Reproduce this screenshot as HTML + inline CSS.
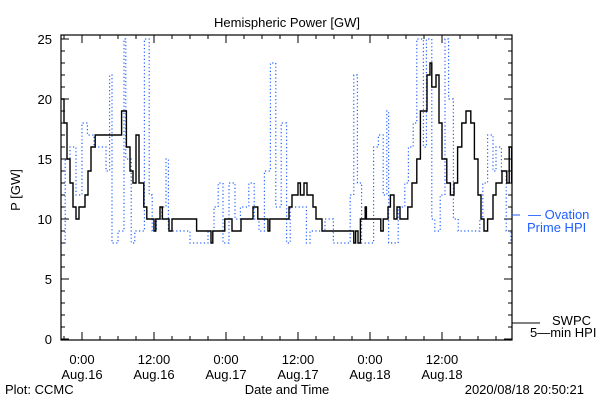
<!DOCTYPE html>
<html><head><meta charset="utf-8"><style>
body{margin:0;background:#fff}
svg text{font-family:"Liberation Sans",sans-serif;font-size:13px}
</style></head><body>
<svg id="chart" width="600" height="400" xmlns="http://www.w3.org/2000/svg">
<rect width="600" height="400" fill="#fff"/>
<text x="287" y="27" text-anchor="middle" font-size="15">Hemispheric Power [GW]</text>
<text x="20" y="190" text-anchor="middle" transform="rotate(-90 20 190)">P [GW]</text>
<text x="287" y="394" text-anchor="middle">Date and Time</text>
<text x="5" y="394">Plot: CCMC</text>
<text x="584" y="394" text-anchor="end">2020/08/18 20:50:21</text>
<g id="axes"></g>
<g id="series"></g>
<rect x="61" y="35" width="451" height="305" fill="none" stroke="#000" stroke-width="1.2"/>
<g>
<line x1="512" y1="215" x2="520" y2="215" stroke="#1f5fff"/>
<text x="528" y="219" fill="#1f5fff">— Ovation</text>
<text x="527" y="232" fill="#1f5fff">Prime HPI</text>
</g>
<g>
<line x1="512" y1="323" x2="540" y2="323" stroke="#000"/>
<text x="552" y="325">SWPC</text>
<text x="530" y="337">5—min HPI</text>
</g>
</svg>
<script>
const yTicks=[0,5,10,15,20,25];
const xTickHours=[0,12,24,36,48,60];
const xTickTimes=["0:00","12:00","0:00","12:00","0:00","12:00"];
const xTickDates=["Aug.16","Aug.16","Aug.17","Aug.17","Aug.18","Aug.18"];
const swpcHours=[-3.5,-3,-2.5,-2,-1.5,-1,-0.5,0.5,1,1.5,2.2,6.6,7.4,8,8.5,9,9.5,10.3,10.8,12,12.3,13,13.4,14.5,15,19.1,21.5,21.8,23.8,25,26.5,28.5,29.3,31,31.3,34.5,35,36,36.4,37,37.5,38.5,39,40,45.3,45.6,46,46.4,47.2,47.4,49.8,50.2,51,51.4,52,52.5,53,54.3,55,55.8,56.4,57.5,58,58.3,59,59.5,60,60.8,61.4,62,62.6,63.3,64,64.8,65.4,66,66.5,67,67.6,68.5,69,70,70.8,71.2,71.6];
const swpcValues=[20,18,15,13,11,10,11,12,14,16,17,19,16,14,13,17,13,11,10,9,10,11,10,9,10,9,8,9,10,9,10,11,10,9,10,11,12,13,12,13,12,11,10,9,8,9,8,10,11,10,9,10,11,12,10,11,10,11,13,15,19,22,23,21,22,18,15,13,12,13,16,18,19,18,15,12,10,9,10,12,13,14,13,16,13];
const ovHours=[-3.5,-2.8,-2,-1,0,0.9,2,4,4.6,5,6,7,7.3,8.2,8.8,9.7,10.4,11.2,11.7,12.4,13.3,14,14.4,16,18,21,22,22.7,23.5,24.5,25.5,26.4,27.8,28.7,29.5,30.4,31.4,32.3,33.2,34.1,34.7,37.4,38,40.5,41.9,44.7,45.3,45.9,46.6,48.6,49.4,50.2,50.8,51.1,52.7,53.8,54.4,55.2,55.8,56.3,56.9,57.4,58.3,58.8,59.7,60.5,61.1,61.9,62.7,66.3,66.8,67.6,68.5,69,69.9,70.7,71.5];
const ovValues=[8,15,16,12,18,17,16,14,22,8,9,25,15,8,9,9,25,12,9,10,11,15,9,9,8,9,11,13,8,13,10,11,13,10,9,14,23,11,18,8,11,8,9,10,8,12,22,13,8,16,17,12,19,8,11,13,16,18,25,25,16,25,10,9,12,25,20,10,9,10,13,17,14,16,14,9,8];
const X0=61,X1=512,Y0=339,Y1=39,H0=-3.5,HPX=6;
const xs=h=>82+h*HPX;
const ys=v=>Y0-(v/25)*(Y0-Y1);
const NS="http://www.w3.org/2000/svg";
const axes=document.getElementById('axes'),series=document.getElementById('series');
function mk(tag,attrs,parent){const e=document.createElementNS(NS,tag);for(const k in attrs)e.setAttribute(k,attrs[k]);parent.appendChild(e);return e;}
for(let v=0;v<=25;v++){const y=ys(v),L=(v%5===0)?8:4;
 const t=mk('line',{x1:X0,y1:y,x2:X0+L,y2:y,stroke:'#000'},axes);
 
 
 const r=mk('line',{x1:X1,y1:y,x2:X1-L,y2:y,stroke:'#000'},axes);
 
 }
yTicks.forEach(v=>{const t=mk('text',{x:52,y:ys(v)+5,'text-anchor':'end'},axes);t.textContent=v;
 
 });
for(let h=-3;h<=71;h+=3){const x=xs(h),L=(h%12===0)?8:4;
 const t=mk('line',{x1:x,y1:340,x2:x,y2:340-L,stroke:'#000'},axes);
 
 
 const u=mk('line',{x1:x,y1:35,x2:x,y2:35+L,stroke:'#000'},axes);
 
 }
xTickHours.forEach((h,i)=>{
 const a=mk('text',{x:xs(h),y:364,'text-anchor':'middle'},axes);a.textContent=xTickTimes[i];
 
 
 const b=mk('text',{x:xs(h),y:379,'text-anchor':'middle'},axes);b.textContent=xTickDates[i];
 
 });
function stepPath(hs,vs){let d='';for(let i=0;i<hs.length;i++){const x=Math.max(X0,Math.min(X1,xs(hs[i]))),y=ys(vs[i]);
 if(i===0)d+='M'+x+','+y;else d+='H'+x+'V'+y;}
 d+='H'+Math.min(X1,xs(hs[hs.length-1])+3);return d;}
const ov=mk('path',{d:stepPath(ovHours,ovValues),fill:'none',stroke:'#1f5fff','stroke-width':1.2,'stroke-dasharray':'1.2,2.4'},series);


const sw=mk('path',{d:stepPath(swpcHours,swpcValues),fill:'none',stroke:'#000','stroke-width':1.4},series);


</script>
</body></html>
